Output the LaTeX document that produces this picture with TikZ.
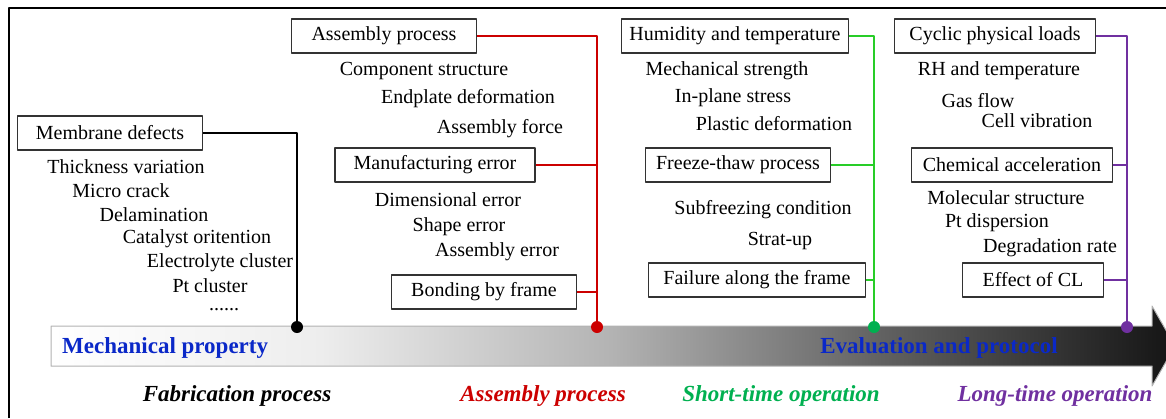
\documentclass[tikz,border=0pt]{standalone}
\usepackage{fontspec}
\setmainfont{Liberation Serif}
\usetikzlibrary{calc, positioning}

\definecolor{asmred}{RGB}{204,0,0}
\definecolor{shortgreen}{RGB}{0,176,80}
\definecolor{busgreen}{RGB}{40,205,40}
\definecolor{longpurple}{RGB}{112,48,160}
\definecolor{propblue}{RGB}{10,40,200}
\pgfdeclarehorizontalshading{timeshade}{100bp}{color(0bp)=(white); color(25bp)=(white); color(37bp)=(black!7); color(50bp)=(black!30); color(62bp)=(black!62); color(75bp)=(black!92); color(100bp)=(black!92)}

\begin{document}
\begin{tikzpicture}[x=1pt, y=-1pt, line join=round,
  every node/.style={font=\fontsize{20}{24}\selectfont},
  factorbox/.style={draw=black!80, line width=1.1pt, inner xsep=5pt, minimum width=185pt, minimum height=34pt, fill=white},
  item/.style={inner sep=0pt},
  axislabel/.style={font=\fontsize{23}{27}\selectfont\bfseries, text=propblue, inner sep=0pt},
  stagelabel/.style={font=\fontsize{23}{27}\selectfont\bfseries\itshape, inner sep=0pt},
  bus/.style={line width=1.4pt}]
\useasboundingbox (0,0) rectangle (1166,418);
\def\busy{327}

% Outer frame
\draw[line width=2pt] (9,418) -- (9,8) -- (1166,8);

% Time arrow
\shade[shading=timeshade, draw=black!30, line width=1pt]
  (51,326) -- (1152,326) -- (1152,306) -- (1175,346) -- (1152,386) -- (1152,366) -- (51,366) -- cycle;
\node[axislabel, anchor=west] (mechprop) at (62,348) {Mechanical property};
\node[axislabel] (evalprot) at (939,348) {Evaluation and protocol};

% Stage dots
\coordinate (fabdot) at (297,\busy);
\coordinate (asmdot) at (597,\busy);
\coordinate (shortdot) at (874,\busy);
\coordinate (longdot) at (1127,\busy);

% Stage labels
\node[stagelabel] (fablbl) at (237,396) {Fabrication process};
\node[stagelabel, text=asmred] (asmlbl) at (543,396) {Assembly process};
\node[stagelabel, text=shortgreen] (shortlbl) at (781,396) {Short-time operation};
\node[stagelabel, text=longpurple] (longlbl) at (1055,396) {Long-time operation};

% Fabrication process
\node[factorbox] (memb) at (110,133) {Membrane defects};
\node[item] (thick) at (126,167) {Thickness variation};
\node[item] (crack) at (121,191) {Micro crack};
\node[item] (delam) at (154,215) {Delamination};
\node[item] (catal) at (197,239) {Catalyst oritention};
\node[item] (elect) at (220,263) {Electrolyte cluster};
\node[item] (ptclu) at (210,286) {Pt cluster};
\node[item] (dots) at (224,310) {......};

% Assembly process
\node[factorbox] (asm) at (384,36) {Assembly process};
\node[item] (compo) at (424,71) {Component structure};
\node[item] (endpl) at (468,99) {Endplate deformation};
\node[item] (asmfo) at (500,129) {Assembly force};
\node[factorbox, minimum width=200pt] (mfg) at (435,165) {Manufacturing error};
\node[item] (dimer) at (448,200) {Dimensional error};
\node[item] (shape) at (459,227) {Shape error};
\node[item] (asmer) at (497,252) {Assembly error};
\node[factorbox] (bond) at (484,292) {Bonding by frame};

% Short-time operation
\node[factorbox, minimum width=227pt] (hum) at (735,36) {Humidity and temperature};
\node[item] (mechs) at (727,71) {Mechanical strength};
\node[item] (inpla) at (733,98) {In-plane stress};
\node[item] (plast) at (774,124) {Plastic deformation};
\node[factorbox] (frz) at (738,165) {Freeze-thaw process};
\node[item] (subfr) at (763,210) {Subfreezing condition};
\node[item] (start) at (780,241) {Strat-up};
\node[factorbox, minimum width=217pt] (fail) at (757,280) {Failure along the frame};

% Long-time operation
\node[factorbox, minimum width=201pt] (cyc) at (995,36) {Cyclic physical loads};
\node[item] (rhtem) at (999,71) {RH and temperature};
\node[item] (gasfl) at (978,101) {Gas flow};
\node[item] (cellv) at (1037,121) {Cell vibration};
\node[factorbox, minimum width=201pt] (chem) at (1012,165) {Chemical acceleration};
\node[item] (molec) at (1006,198) {Molecular structure};
\node[item] (ptdis) at (997,223) {Pt dispersion};
\node[item] (degra) at (1050,248) {Degradation rate};
\node[factorbox, minimum width=141pt] (eff) at (1033,280) {Effect of CL};

% Connectors
\draw[bus] (memb.east) -| (fabdot);
\draw[bus, asmred] (asm.east) -| (asmdot);
\draw[bus, asmred] (mfg.east) -- (mfg.east -| asmdot);
\draw[bus, asmred] (bond.east) -- (bond.east -| asmdot);
\draw[bus, busgreen] (hum.east) -| (shortdot);
\draw[bus, busgreen] (frz.east) -- (frz.east -| shortdot);
\draw[bus, busgreen] (fail.east) -- (fail.east -| shortdot);
\draw[bus, longpurple] (cyc.east) -| (longdot);
\draw[bus, longpurple] (chem.east) -- (chem.east -| longdot);
\draw[bus, longpurple] (eff.east) -- (eff.east -| longdot);

% Stage markers
\fill[black] (fabdot) circle (6);
\fill[asmred] (asmdot) circle (6);
\fill[shortgreen] (shortdot) circle (6);
\fill[longpurple] (longdot) circle (6);
\end{tikzpicture}
\end{document}
